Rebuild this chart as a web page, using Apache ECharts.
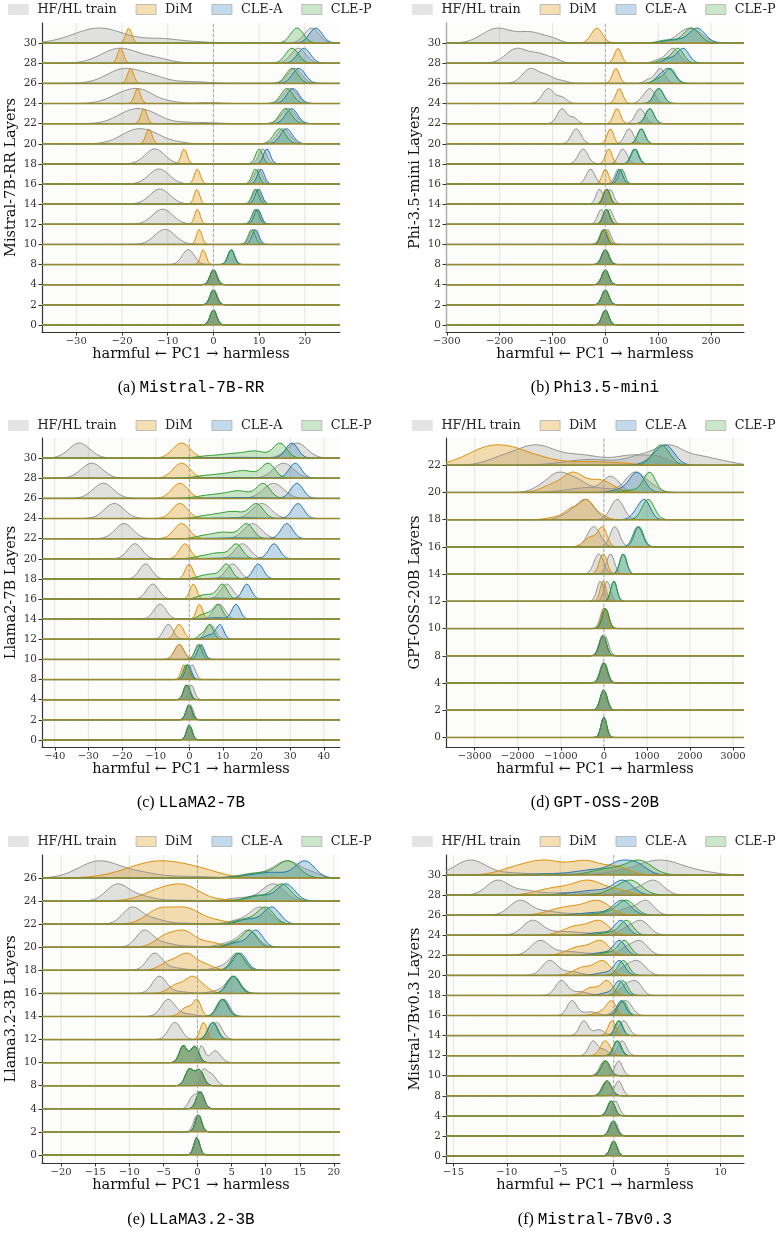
<!DOCTYPE html>
<html><head><meta charset="utf-8">
<script src="https://cdn.jsdelivr.net/npm/echarts@6/dist/echarts.min.js"></script>
<style>html,body{margin:0;padding:0;background:#fff}#c{width:784px;height:1246px}</style>
</head><body><div id="c"></div>
<script>
// ---- Data: each curve = list of KDE-like components [centre, spread, relative height] ----
// Panel (a) Mistral-7B-RR
const LAYERS_A = [30,28,26,24,22,20,18,16,14,12,10,8,4,2,0];
const XRANGE_A = [-37.5, 27.7];
const XTICKS_A = [-30,-20,-10,0,10,20];
const HF_A = [
 [[-25,5.5,1],[-11,4,0.27],[-3,3,0.06]],
 [[-20.5,4,1],[-12.5,3.2,0.28]],
 [[-19.5,3.8,1],[-13,3,0.35],[-5,3.5,0.12]],
 [[-18.5,3.6,1],[-15,2.5,0.45],[-10,2.5,0.15],[-1,2.5,0.08]],
 [[-17.3,3.5,1],[-13,2.5,0.3],[-7,3,0.1],[-1,2.5,0.06]],
 [[-16.8,3.4,1],[-12.5,2.5,0.3],[-8,2,0.1]],
 [[-12.8,2.1,1]],[[-11.9,2.2,1]],[[-11.7,2.2,1]],[[-11.1,2.2,1]],[[-10.6,2.2,1]],
 [[-5.5,1.3,1]],[[0,0.75,1]],[[0,0.75,1]],[[0,0.72,1]]];
const HL_A = [[[21.5,1.6,1]],[[18.6,1.6,1]],[[17.8,1.5,1]],[[16.8,1.5,1]],[[16.4,1.5,1]],[[15.3,1.4,1]],
 [[10.8,0.85,1]],[[9.8,0.85,1]],[[9.5,0.85,1]],[[9.4,0.85,1]],[[8.8,0.85,1]],[[3.9,0.75,1]],
 [[0.1,0.75,1]],[[0.1,0.75,1]],[[0.05,0.72,1]]];
const DIM_A = [[[-18.5,0.65,1]],[[-20.3,0.65,1]],[[-18.1,0.65,1]],[[-16.6,0.65,1]],[[-15.2,0.65,1]],[[-14.1,0.65,1]],
 [[-6.4,0.65,1]],[[-3.5,0.65,1]],[[-3.6,0.6,1]],[[-3.5,0.6,1]],[[-3.1,0.6,1]],[[-2.2,0.6,1]],
 [[0,0.72,1]],[[0,0.72,1]],[[0,0.7,1]]];
const CLEA_A = [[[22.4,1.4,1]],[[19.8,1.4,1]],[[18.7,1.4,1]],[[17.4,1.3,1]],[[17.1,1.3,1]],[[16,1.3,1]],
 [[11.7,0.75,1]],[[10.4,0.75,1]],[[9.9,0.75,1]],[[9.7,0.75,1]],[[9.2,0.75,1]],[[3.9,0.7,1]],
 [[0,0.72,1]],[[0,0.72,1]],[[0,0.7,1]]];
const CLEP_A = [[[18.3,1.4,1]],[[17.2,1.4,1]],[[17.2,1.3,1]],[[16.1,1.3,1]],[[15.8,1.3,1]],[[14.5,1.3,1]],
 [[10.0,0.75,1]],[[9.2,0.75,1]],[[9.2,0.75,1]],[[9.2,0.75,1]],[[8.4,0.75,1]],[[3.9,0.7,1]],
 [[0,0.72,1]],[[0,0.72,1]],[[0,0.7,1]]];

// Panel (b) Phi-3.5-mini
const LAYERS_B = [30,28,26,24,22,20,18,16,14,12,10,8,4,2,0];
const XRANGE_B = [-301.5, 262.4];
const XTICKS_B = [-300,-200,-100,0,100,200];
const HF_B = [
 [[-205,28,1],[-140,25,0.7],[-100,15,0.2]],
 [[-168,20,1],[-125,18,0.6],[-95,12,0.2]],
 [[-142,15,1],[-110,14,0.5],[-80,10,0.15]],
 [[-108,11,1],[-82,9,0.4]],
 [[-82,9,1],[-60,7,0.4]],
 [[-55,9,1]],[[-42,9,1]],[[-28,8,1]],[[-11,6.5,1]],[[-8,6.5,1]],[[-4,6.5,1]],
 [[0,7,1]],[[0,6.5,1]],[[0,6.5,1]],[[0,6.3,1]]];
const HL_B = [
 [[160,22,1]],[[128,12,1],[100,10,0.2]],[[104,9,1],[82,8,0.25]],[[85,9,1],[70,7,0.25]],
 [[66,9,1]],[[45,8,1]],[[33,8,1]],[[25,7,1]],[[9,6.5,1]],[[8,6.5,1]],[[4,6.5,1]],
 [[0,7,1]],[[0,6.5,1]],[[0,6.5,1]],[[0,6.3,1]]];
const DIM_B = [[[-16,10.5,1]],[[24,6.5,1]],[[20,6.5,1]],[[26.5,6.5,1]],[[22,6.5,1]],[[9.5,6,1]],[[6.4,6,1]],
 [[0,6,1]],[[1,6,1]],[[2,6.5,1]],[[0,6.5,1]],[[0,6.5,1]],[[0,6.5,1]],[[0,6.5,1]],[[0,6.3,1]]];
const CLEA_B = [[[174,15,1],[130,18,0.25]],[[147,11,1],[120,10,0.3]],[[120,11,1],[101,9,0.35]],[[101,9,1]],
 [[84,8,1]],[[68,7,1]],[[55,7,1]],[[27,6,1]],[[3,6,1]],[[2,6,1]],[[-3,6,1]],
 [[0,6.5,1]],[[0,6.5,1]],[[0,6.5,1]],[[0,6.3,1]]];
const CLEP_B = [[[163,15,1],[115,15,0.2]],[[137,11,1],[110,10,0.25]],[[123,10,1],[100,9,0.3]],[[101,9,1]],
 [[84,8,1]],[[68,7,1]],[[56.5,7,1]],[[31,6,1]],[[3,6,1]],[[2,6,1]],[[-3,6,1]],
 [[0,6.5,1]],[[0,6.5,1]],[[0,6.5,1]],[[0,6.3,1]]];

// Panel (c) LLaMA2-7B
const LAYERS_C = [30,28,26,24,22,20,18,16,14,12,10,8,4,2,0];
const XRANGE_C = [-43.8, 44.8];
const XTICKS_C = [-40,-30,-20,-10,0,10,20,30,40];
const HF_C = [[[-32.7,3.1,1]],[[-29,3.1,1]],[[-25.6,3,1]],[[-22.3,2.9,1]],[[-19.4,2.6,1]],[[-16.2,2.1,1]],
 [[-13,1.8,1]],[[-10.9,1.8,1]],[[-8.7,1.8,1]],[[-6.25,1.4,1]],[[-3,1.4,1]],[[-0.8,1.0,1]],
 [[-0.5,0.9,1]],[[0,0.9,1]],[[0,0.8,1]]];
const HL_C = [[[32,3,1]],[[28,3,1]],[[25,3,1]],[[21.5,2.8,1]],[[18.8,2.6,1]],[[15.8,2.2,1]],
 [[12.9,1.9,1]],[[11.1,1.8,1]],[[8.9,1.7,1]],[[6.3,1.4,1]],[[3,1.2,1]],[[0.8,1.0,1]],
 [[0.6,0.9,1]],[[0.4,0.8,1]],[[0.1,0.8,1]]];
const DIM_C = [[[-2.3,2.6,1]],[[-2.3,2.5,1]],[[-2.8,2.4,1]],[[-2.8,2.3,1]],[[-2.3,2.2,1]],[[-1.3,1.6,1]],
 [[-0.1,1.1,1]],[[1.2,1.0,1]],[[3,0.9,1]],[[-3,1.3,1]],[[-3,1.4,1]],[[-1.5,0.9,1]],
 [[-0.8,0.9,1]],[[-0.1,0.85,1]],[[0,0.8,1]]];
const CLEA_C = [[[30.5,1.8,1],[15,8,0.05]],[[31.5,1.8,1],[15,8,0.05]],[[32,1.8,1],[15,8,0.05]],
 [[32.3,1.7,1],[15,7,0.05]],[[29,1.7,1],[14,7,0.05]],[[25.2,1.6,1],[12,6,0.05]],
 [[20.5,1.5,1],[10,5,0.05]],[[17.1,1.3,1],[9,4,0.06]],[[13.9,1.2,1],[8,3,0.1]],
 [[9.1,1.1,1],[6,1.5,0.3]],[[3.5,1,1]],[[-0.3,0.9,1]],[[-0.8,0.9,1]],[[-0.1,0.85,1]],[[0,0.8,1]]];
const CLEP_C = [
 [[27,2,1],[20,3,0.42],[13,4,0.3],[5,3,0.12]],
 [[23.5,2,1],[17,3,0.42],[11,4,0.3],[4,3,0.12]],
 [[22,2,1],[15.5,3,0.4],[10,4,0.28],[4,3,0.1]],
 [[20,2,1],[14,3,0.38],[9,3.5,0.27],[4,2.5,0.1]],
 [[17.1,1.9,1],[11.5,2.8,0.35],[7,3,0.25],[3,2,0.08]],
 [[14.1,1.7,1],[9.5,2.5,0.35],[5.5,2.5,0.2],[2,2,0.06]],
 [[11.1,1.5,1],[7,2,0.3],[3.5,2,0.15]],
 [[9.9,1.4,1],[6,2,0.3],[3,1.5,0.12]],
 [[8.6,1.3,1],[5.5,1.5,0.4],[3,1.2,0.15]],
 [[6,1.1,1],[3.5,1,0.3]],
 [[2.7,1,1]],[[-0.8,0.9,1]],[[-0.8,0.9,1]],[[-0.1,0.85,1]],[[0,0.8,1]]];

// Panel (d) GPT-OSS-20B
const LAYERS_D = [22,20,18,16,14,12,10,8,4,2,0];
const XRANGE_D = [-3667, 3256];
const XTICKS_D = [-3000,-2000,-1000,0,1000,2000,3000];
const HF_D = [
 [[-1600,450,1],[-2400,350,0.3],[-500,500,0.5],[700,400,0.5],[1300,250,0.3]],
 [[-1070,250,1],[-600,250,0.6],[160,200,0.9],[-1500,200,0.2]],
 [[-420,200,1],[-800,200,0.3]],
 [[-233,150,1]],[[-116,110,1]],[[-80,80,1]],[[0,80,1]],[[-30,85,1]],[[-10,85,1]],[[-5,80,1]],[[0,65,1]]];
const HL_D = [
 [[1500,350,1],[2300,350,0.4],[2900,250,0.1],[800,300,0.35],[-300,600,0.3]],
 [[700,200,1],[1050,200,0.4],[-300,500,0.28]],
 [[310,150,1]],[[256,110,1]],[[155,90,1]],[[76,75,1]],[[30,80,1]],[[20,85,1]],[[10,85,1]],[[5,80,1]],[[5,65,1]]];
const DIM_D = [
 [[-2600,550,1],[-1900,400,0.35],[-1300,350,0.2],[-300,500,0.2],[500,250,0.06]],
 [[-720,230,1],[-1200,250,0.4],[-100,300,0.7]],
 [[-390,160,1],[-750,170,0.55],[-1150,180,0.12],[-50,130,0.2]],
 [[-25,100,1],[-300,150,0.55]],
 [[-16,90,1]],[[-16,70,1]],[[10,75,1]],[[-23,80,1]],[[0,80,1]],[[-5,78,1]],[[0,65,1]]];
const CLEA_D = [
 [[1450,200,1],[1150,200,0.3]],[[775,170,1],[400,200,0.15]],[[953,130,1],[750,120,0.3]],
 [[790,110,1]],[[450,80,1]],[[233,70,1]],[[40,75,1]],[[-20,80,1]],[[0,80,1]],[[-5,78,1]],[[0,65,1]]];
const CLEP_D = [
 [[1330,190,1]],[[1060,140,1],[650,200,0.12]],[[1030,140,1]],
 [[814,105,1]],[[450,80,1]],[[233,70,1]],[[40,75,1]],[[-20,80,1]],[[0,80,1]],[[-5,78,1]],[[0,65,1]]];

// Panel (e) LLaMA3.2-3B
const LAYERS_E = [26,24,22,20,18,16,14,12,10,8,4,2,0];
const XRANGE_E = [-22.8, 20.9];
const XTICKS_E = [-20,-15,-10,-5,0,5,10,15,20];
const HF_E = [
 [[-14.4,3,1],[-8.5,2.5,0.25],[-2,4,0.1]],
 [[-11.8,1.6,1],[-8.5,1.8,0.3],[-3,3,0.06]],
 [[-9.6,1.4,1],[-6.5,1.6,0.3],[-2,2.5,0.06]],
 [[-7.8,1.2,1],[-5,1.5,0.25],[-1,2,0.06]],
 [[-6.3,1.1,1],[-3.5,1.5,0.15]],
 [[-5.6,1,1],[-3,1.5,0.12]],
 [[-4.3,1,1],[-1.5,1.2,0.15]],
 [[-3.3,0.9,1]],
 [[-2.1,0.55,1],[-0.4,0.6,0.97]],
 [[-1.2,0.6,1],[0.3,0.6,0.95]],
 [[-0.8,0.5,0.7],[0.3,0.5,1]],
 [[-0.3,0.45,0.8],[0.2,0.45,1]],
 [[-0.1,0.42,1]]];
const HL_E = [
 [[13.2,2,1],[8,2,0.25],[17,1.2,0.2]],
 [[11.1,1.6,1],[6.5,2,0.2]],
 [[9.2,1.5,1],[5.8,1.5,0.2]],
 [[7.5,1.3,1],[4.5,1.5,0.25]],
 [[5.9,1.1,1],[3.5,1.3,0.2]],
 [[5.3,1,1],[3,1.2,0.15]],
 [[3.9,0.8,1]],[[2.8,0.8,1]],
 [[0.6,0.45,1],[2.6,0.8,0.7]],
 [[0.8,0.5,1],[2,0.7,0.85]],
 [[0.4,0.55,1]],[[0.15,0.45,1]],[[-0.1,0.42,1]]];
const DIM_E = [
 [[-5.5,4.6,1],[1,2.8,0.2]],
 [[-5,2.8,1],[-1.5,2.2,0.9],[4,2.5,0.1]],
 [[-5.5,2.0,1],[-1.5,1.9,0.95],[2.5,2,0.25]],
 [[-4.5,1.6,0.9],[-1.8,1.4,1],[1.5,1.8,0.4]],
 [[-4,1.4,0.6],[-1.5,1.2,1],[1,1.3,0.4]],
 [[-3,1.2,0.6],[-0.7,1,1],[1,1,0.35]],
 [[-1.5,0.9,0.65],[0,0.55,1]],
 [[0.9,0.5,1]],
 [[-2.1,0.55,1],[-0.4,0.6,0.97]],
 [[-1.2,0.6,1],[0.3,0.6,0.95]],
 [[0.4,0.55,1]],[[0.15,0.45,1]],[[-0.1,0.42,1]]];
const CLEA_E = [
 [[15.8,1.4,1],[11,2.5,0.35],[6,2,0.08]],
 [[13,1.3,1],[9,1.8,0.35]],
 [[10.9,1.2,1],[7.5,1.5,0.3]],
 [[8.6,1,1],[6,1.3,0.3]],
 [[6.2,1,1]],[[5.3,0.9,1]],[[3.7,0.8,1]],[[2.3,0.7,1]],
 [[-2.1,0.55,1],[-0.4,0.6,0.97]],
 [[-1.2,0.6,1],[0.3,0.6,0.95]],
 [[0.4,0.55,1]],[[0.15,0.45,1]],[[-0.1,0.42,1]]];
const CLEP_E = [
 [[13.3,1.6,1],[9,2.2,0.3]],
 [[12.4,1.3,1],[9,1.8,0.3]],
 [[10,1.2,1],[7,1.5,0.3]],
 [[7.7,1,1],[5.5,1.3,0.3]],
 [[5.9,0.95,1]],[[5.2,0.9,1]],[[3.6,0.8,1]],[[2.2,0.7,1]],
 [[-2.1,0.55,1],[-0.4,0.6,0.97]],
 [[-1.2,0.6,1],[0.3,0.6,0.95]],
 [[0.4,0.55,1]],[[0.15,0.45,1]],[[-0.1,0.42,1]]];

// Panel (f) Mistral-7Bv0.3
const LAYERS_F = [30,28,26,24,22,20,18,16,14,12,10,8,4,2,0];
const XRANGE_F = [-15.7, 12.2];
const XTICKS_F = [-15,-10,-5,0,5,10];
const HF_F = [
 [[-13.4,1.45,1],[-9.5,1.5,0.12],[-4,3,0.07]],
 [[-10.9,1.0,1],[-8.5,1.2,0.3],[-4,2.5,0.18]],
 [[-8.8,0.95,1],[-6.5,1.2,0.25],[-2.5,2.2,0.12]],
 [[-7.6,0.9,1],[-5,1.3,0.22],[-2.5,1.5,0.12]],
 [[-6.9,0.85,1],[-4.5,1.2,0.25],[-2,1.2,0.1]],
 [[-6,0.7,1],[-4,0.9,0.25]],
 [[-4.9,0.55,1],[-3.2,0.8,0.25]],
 [[-3.9,0.45,1],[-2.2,0.7,0.25]],
 [[-2.8,0.4,1],[-1.4,0.5,0.4]],
 [[-1.93,0.4,1],[-0.9,0.4,0.4]],
 [[-0.9,0.4,1]],[[-0.7,0.4,1]],[[-0.25,0.35,1]],[[-0.06,0.32,1]],[[0,0.31,1]]];
const HL_F = [
 [[3.5,1.6,1],[5.5,1.5,0.7],[8,1.6,0.3],[0.5,1.5,0.3]],
 [[3.8,0.9,1],[2,1.2,0.4]],
 [[3.0,0.75,1],[1.2,0.8,0.45]],
 [[2.6,0.75,1],[1.2,0.7,0.45]],
 [[2.4,0.75,1],[1.0,0.6,0.4]],
 [[2.2,0.75,1],[0.9,0.6,0.4]],
 [[1.2,0.6,0.9],[2.2,0.5,0.95]],
 [[1.25,0.5,1],[0.4,0.5,0.5]],
 [[0.93,0.45,1]],[[0.78,0.4,1]],[[0.47,0.35,1]],[[0.45,0.35,1]],[[0.15,0.35,1]],[[0.05,0.33,1]],[[0,0.31,1]]];
const DIM_F = [
 [[-6.5,1.8,1],[-2.5,1.5,0.95],[-9.5,1.5,0.35],[0.5,1.1,0.5]],
 [[-2.3,1.4,1],[-5.5,1.6,0.5],[0.5,1,0.3]],
 [[-1.4,1.1,1],[-4,1.5,0.65],[-6,1,0.1]],
 [[-1.3,0.9,1],[-3.5,1.2,0.7]],
 [[-1.2,0.8,1],[-3.2,1.1,0.65]],
 [[-1,0.7,1],[-2.8,0.9,0.6]],
 [[-0.6,0.55,1],[-2.1,0.7,0.55]],
 [[-0.2,0.45,1],[-1.2,0.6,0.25]],
 [[-0.16,0.35,1]],[[-0.79,0.45,1]],[[-0.79,0.4,1]],[[-0.63,0.4,1]],[[-0.22,0.33,1]],[[-0.06,0.32,1]],[[0,0.31,1]]];
const CLEA_F = [
 [[0.6,0.9,0.95],[2.2,0.9,1],[-1.5,1.8,0.55],[-6,2,0.12]],
 [[0.9,0.9,1],[-1.5,1.5,0.35],[-4,1.2,0.1]],
 [[0.8,0.8,1],[-1.5,1.5,0.2]],
 [[0.7,0.6,1],[-1.2,1,0.2]],
 [[0.55,0.55,1],[-1,0.9,0.2]],
 [[0.55,0.5,1],[-0.8,0.8,0.2]],
 [[0.55,0.45,1],[-0.5,0.7,0.2]],
 [[0.7,0.4,1]],[[0.47,0.35,1]],[[0.37,0.35,1]],[[-0.75,0.4,1]],[[-0.6,0.4,1]],[[-0.22,0.33,1]],[[-0.06,0.32,1]],[[0,0.31,1]]];
const CLEP_F = [
 [[2.4,1.2,1],[-0.5,1.5,0.45]],
 [[1.65,1,1],[0,1,0.3]],
 [[1.2,0.8,1],[-0.5,1,0.2]],
 [[1.2,0.6,1],[-0.5,0.8,0.2]],
 [[1.0,0.55,1],[-0.5,0.7,0.2]],
 [[0.9,0.5,1]],[[0.85,0.45,1]],[[0.85,0.4,1]],[[0.5,0.35,1]],[[0.3,0.35,1]],
 [[-0.75,0.4,1]],[[-0.6,0.4,1]],[[-0.22,0.33,1]],[[-0.06,0.32,1]],[[0,0.31,1]]];

const SERIES_NAMES = ['HF/HL train','DiM','CLE-A','CLE-P'];
const MODEL_NAMES = ['Mistral-7B-RR','Phi3.5-mini','LLaMA2-7B','GPT-OSS-20B','LLaMA3.2-3B','Mistral-7Bv0.3'];
const Y_TITLES = ['Mistral-7B-RR Layers','Phi-3.5-mini Layers','Llama2-7B Layers','GPT-OSS-20B Layers','Llama3.2-3B Layers','Mistral-7Bv0.3 Layers'];
const X_TITLE = 'harmful \u2190 PC1 \u2192 harmless';

// ---- styling / layout ----
const COL = {hf:'#949494', dim:'#DE8F05', clea:'#1f77b4', clep:'#2ca02c'};
const FILL = {hf:'rgba(148,148,148,0.27)', dim:'rgba(222,143,5,0.3)', clea:'rgba(31,119,180,0.27)', clep:'rgba(44,160,44,0.25)'};
const BASE_COLOR = '#988a30';
const SERIF = 'DejaVu Serif';

const PANELS = [
 {L:LAYERS_A,hf:HF_A,hl:HL_A,dim:DIM_A,clea:CLEA_A,clep:CLEP_A,xr:XRANGE_A,tk:XTICKS_A,grid:{left:42,top:23,width:298,height:309},leg:{left:8,top:3},cap:{x:191,y:388},tag:'(a)'},
 {L:LAYERS_B,hf:HF_B,hl:HL_B,dim:DIM_B,clea:CLEA_B,clep:CLEP_B,xr:XRANGE_B,tk:XTICKS_B,grid:{left:446,top:23,width:298,height:309},leg:{left:412,top:3},cap:{x:595,y:388},tag:'(b)'},
 {L:LAYERS_C,hf:HF_C,hl:HL_C,dim:DIM_C,clea:CLEA_C,clep:CLEP_C,xr:XRANGE_C,tk:XTICKS_C,grid:{left:42,top:438,width:298,height:309},leg:{left:8,top:419},cap:{x:191,y:803},tag:'(c)'},
 {L:LAYERS_D,hf:HF_D,hl:HL_D,dim:DIM_D,clea:CLEA_D,clep:CLEP_D,xr:XRANGE_D,tk:XTICKS_D,grid:{left:446,top:438,width:298,height:309},leg:{left:412,top:419},cap:{x:595,y:803},tag:'(d)'},
 {L:LAYERS_E,hf:HF_E,hl:HL_E,dim:DIM_E,clea:CLEA_E,clep:CLEP_E,xr:XRANGE_E,tk:XTICKS_E,grid:{left:42,top:855,width:298,height:308},leg:{left:8,top:835},cap:{x:191,y:1220},tag:'(e)'},
 {L:LAYERS_F,hf:HF_F,hl:HL_F,dim:DIM_F,clea:CLEA_F,clep:CLEP_F,xr:XRANGE_F,tk:XTICKS_F,grid:{left:446,top:855,width:298,height:308},leg:{left:412,top:835},cap:{x:595,y:1220},tag:'(f)'}
];

const NPTS = 420, PEAK = 0.75, YMIN = -0.35;

function density(comps, xs){
  const d = xs.map(x => comps.reduce((s,c) => s + c[2]*Math.exp(-(x-c[0])*(x-c[0])/(2*c[1]*c[1])), 0));
  const mx = Math.max.apply(null, d) || 1;
  return d.map(v => v/mx);
}
function fmtTick(v){ return v < 0 ? '\u2212' + Math.abs(v) : String(v); }

const grids=[], xAxes=[], yAxes=[], series=[], legends=[], graphics=[];

PANELS.forEach((p, pi) => {
  const n = p.L.length;
  grids.push(Object.assign({show:true, backgroundColor:'#fcfcfa', borderWidth:0, containLabel:false}, p.grid));
  xAxes.push({type:'value', gridIndex:pi, min:p.xr[0], max:p.xr[1],
    axisLine:{show:true,onZero:false,lineStyle:{color:'#333',width:1.2}},
    axisTick:{show:true,length:3.5,customValues:p.tk,lineStyle:{color:'#333'}},
    axisLabel:{customValues:p.tk,formatter:fmtTick,fontFamily:SERIF,fontSize:10,color:'#333',margin:4},
    splitLine:{show:false},
    name:X_TITLE, nameLocation:'middle', nameGap:13,
    nameTextStyle:{fontFamily:SERIF,fontSize:14.5,color:'#111'}});
  const idx = p.L.map((_,i)=>i);
  yAxes.push({type:'value', gridIndex:pi, min:YMIN, max:n,
    axisLine:{show:true,onZero:false,lineStyle:{color:'#333',width:1.2}},
    axisTick:{show:true,length:3.5,customValues:idx,lineStyle:{color:'#333'}},
    axisLabel:{customValues:idx,formatter:v=>String(p.L[n-1-Math.round(v)]),fontFamily:SERIF,fontSize:10.5,color:'#333',margin:5},
    splitLine:{show:false},
    name:Y_TITLES[pi], nameLocation:'middle', nameGap:23,
    nameTextStyle:{fontFamily:SERIF,fontSize:14.5,color:'#111'}});

  const xs = [];
  for (let k=0;k<NPTS;k++) xs.push(p.xr[0] + (p.xr[1]-p.xr[0])*k/(NPTS-1));

  // vertical grid lines at ticks
  p.tk.forEach(t => series.push({type:'line', xAxisIndex:pi, yAxisIndex:pi, data:[[t,YMIN],[t,n]],
    symbol:'none', silent:true, lineStyle:{color:'#e4e4e4',width:1}, z:1, animation:false}));

  // ridges
  p.L.forEach((lay, i) => {
    const y0 = n-1-i;
    const curves = [['hf',p.hf[i],0],['hf',p.hl[i],0],['dim',p.dim[i],1],['clea',p.clea[i],2],['clep',p.clep[i],3]];
    curves.forEach(([key, comps, ni]) => {
      const d = density(comps, xs);
      series.push({type:'line', name:SERIES_NAMES[ni], xAxisIndex:pi, yAxisIndex:pi,
        data: xs.map((x,k)=>[x, y0 + PEAK*d[k]]),
        symbol:'none', showSymbol:false, silent:true, animation:false, z:2,
        lineStyle:{color:COL[key], width:1}, itemStyle:{color:COL[key]},
        areaStyle:{color:FILL[key], origin:y0, opacity:1}});
    });
    series.push({type:'line', xAxisIndex:pi, yAxisIndex:pi, data:[[p.xr[0],y0],[p.xr[1],y0]],
      symbol:'none', silent:true, lineStyle:{color:BASE_COLOR,width:1.5}, z:3, animation:false});
  });

  // dashed zero line
  series.push({type:'line', xAxisIndex:pi, yAxisIndex:pi, data:[[0,YMIN],[0,n]],
    symbol:'none', silent:true, lineStyle:{color:'#9a9a9a',width:0.8,type:[3,2]}, z:4, animation:false});

  legends.push({left:p.leg.left, top:p.leg.top, width:400, padding:0, itemWidth:20, itemHeight:10, itemGap:19,
    selectedMode:false, icon:'rect', orient:'horizontal',
    textStyle:{fontFamily:SERIF,fontSize:12.8,color:'#222',padding:[0,0,0,4]},
    data:[
      {name:'HF/HL train', itemStyle:{color:'rgba(148,148,148,0.25)',borderColor:'rgba(148,148,148,0.15)',borderWidth:0.8}},
      {name:'DiM', itemStyle:{color:'rgba(222,143,5,0.3)',borderColor:'#b0b0b0',borderWidth:0.8}},
      {name:'CLE-A', itemStyle:{color:'rgba(31,119,180,0.27)',borderColor:'#b0b0b0',borderWidth:0.8}},
      {name:'CLE-P', itemStyle:{color:'rgba(44,160,44,0.25)',borderColor:'#b0b0b0',borderWidth:0.8}}
    ]});

  graphics.push({type:'text', x:p.cap.x, y:p.cap.y, silent:true,
    style:{text:'{s|'+p.tag+' }{m|'+MODEL_NAMES[pi]+'}', align:'center', verticalAlign:'middle', fill:'#000',
      rich:{s:{fontFamily:'Liberation Serif',fontSize:16,fill:'#000'}, m:{fontFamily:'Liberation Mono',fontSize:16,fill:'#000'}}}});
});

const chart = echarts.init(document.getElementById('c'), null, {renderer:'canvas'});
chart.setOption({
  animation:false,
  backgroundColor:'#ffffff',
  grid:grids, xAxis:xAxes, yAxis:yAxes, series:series, legend:legends, graphic:graphics
});
</script></body></html>
